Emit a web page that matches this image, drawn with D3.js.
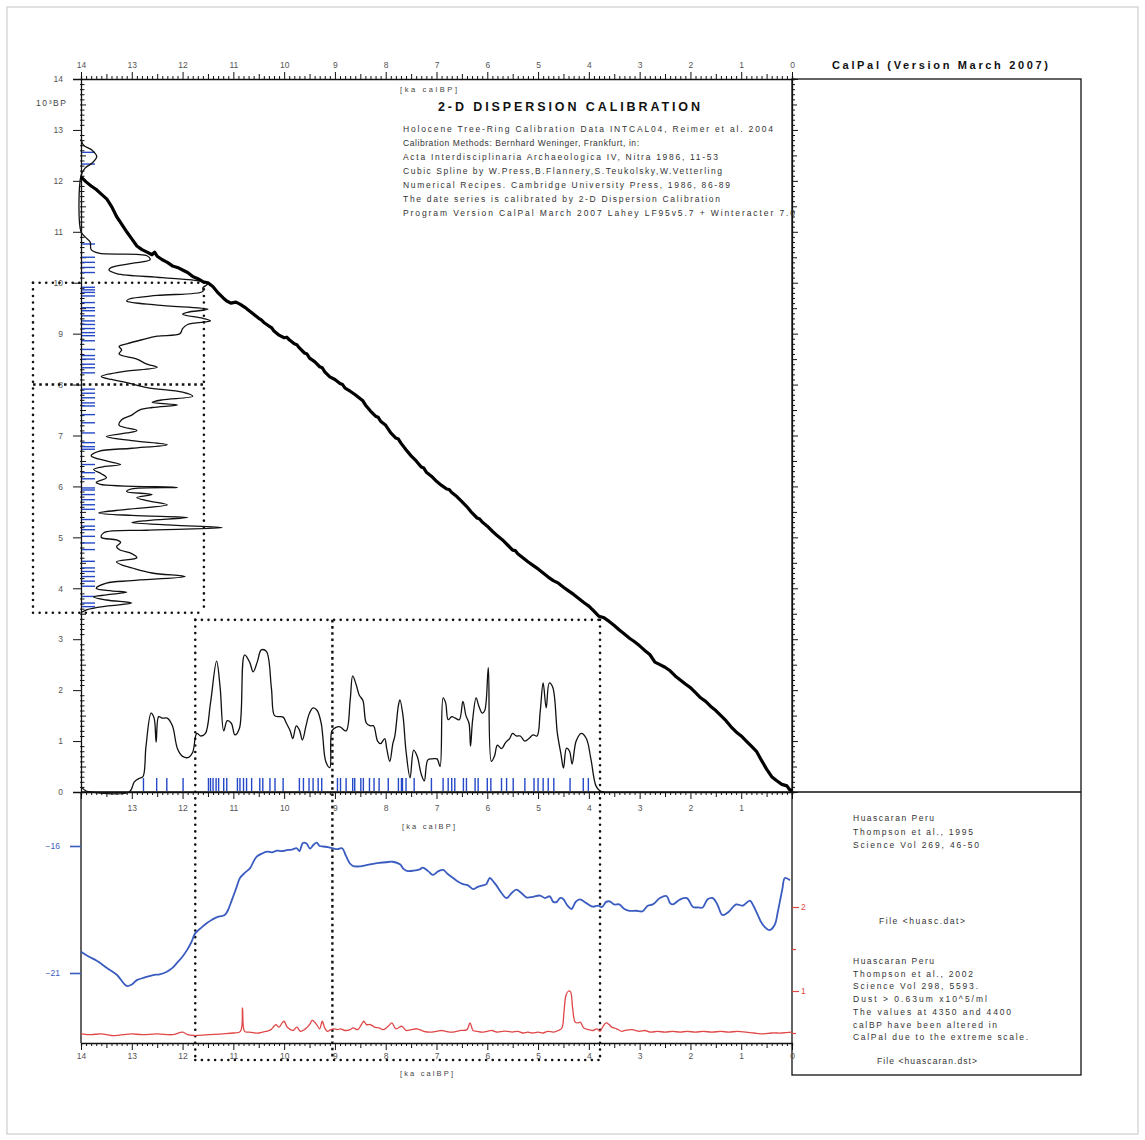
<!DOCTYPE html>
<html><head><meta charset="utf-8">
<script src="https://cdn.jsdelivr.net/npm/d3@7"></script>
<style>
body{margin:0;background:#fff}
svg{display:block}
text{font-family:"Liberation Sans",Arial,sans-serif}
</style>
</head><body>
<svg id="c" width="1145" height="1140"></svg>
<script>
// ---------------- DATA ----------------
// calibration curve: [cal ka BP, 14C ka BP]
const calCurve = [[14.0,12.08],[13.9,11.98],[13.8,11.9],[13.7,11.83],[13.6,11.74],[13.49,11.64],[13.4,11.5],[13.3,11.3],[13.2,11.15],[13.1,11.0],[13.0,10.86],[12.9,10.72],[12.8,10.65],[12.7,10.6],[12.6,10.55],[12.55,10.6],[12.5,10.52],[12.4,10.45],[12.3,10.4],[12.2,10.33],[12.1,10.3],[12.0,10.25],[11.9,10.2],[11.8,10.12],[11.7,10.08],[11.6,10.02],[11.5,10.0],[11.4,9.92],[11.3,9.8],[11.2,9.7],[11.13,9.64],[11.05,9.6],[10.95,9.62],[10.87,9.58],[10.75,9.5],[10.6,9.38],[10.5,9.3],[10.45,9.27],[10.4,9.22],[10.3,9.15],[10.25,9.12],[10.2,9.05],[10.1,8.97],[10.0,8.92],[9.95,8.93],[9.9,8.88],[9.8,8.8],[9.75,8.78],[9.7,8.72],[9.6,8.62],[9.55,8.6],[9.5,8.52],[9.4,8.45],[9.3,8.35],[9.25,8.33],[9.2,8.25],[9.1,8.15],[9.0,8.1],[8.9,8.02],[8.85,8.0],[8.8,7.93],[8.7,7.87],[8.6,7.8],[8.5,7.72],[8.45,7.68],[8.4,7.6],[8.3,7.48],[8.2,7.38],[8.15,7.36],[8.1,7.28],[8.0,7.2],[7.9,7.05],[7.8,6.95],[7.75,6.93],[7.7,6.85],[7.6,6.72],[7.5,6.6],[7.4,6.5],[7.3,6.38],[7.25,6.36],[7.2,6.28],[7.1,6.2],[7.0,6.1],[6.9,6.02],[6.8,5.95],[6.75,5.94],[6.7,5.88],[6.6,5.8],[6.5,5.7],[6.4,5.6],[6.3,5.48],[6.2,5.38],[6.15,5.36],[6.1,5.3],[6.0,5.22],[5.9,5.12],[5.8,5.03],[5.7,4.95],[5.6,4.85],[5.5,4.75],[5.45,4.74],[5.4,4.68],[5.3,4.6],[5.2,4.52],[5.1,4.45],[5.0,4.38],[4.9,4.3],[4.8,4.22],[4.7,4.15],[4.6,4.1],[4.5,4.02],[4.4,3.95],[4.3,3.88],[4.2,3.8],[4.1,3.72],[4.0,3.65],[3.9,3.55],[3.8,3.45],[3.7,3.42],[3.6,3.35],[3.5,3.27],[3.4,3.18],[3.3,3.1],[3.2,3.02],[3.1,2.95],[3.0,2.87],[2.9,2.78],[2.8,2.7],[2.7,2.55],[2.6,2.5],[2.5,2.45],[2.4,2.38],[2.3,2.28],[2.2,2.2],[2.1,2.12],[2.0,2.05],[1.9,1.95],[1.8,1.85],[1.7,1.78],[1.6,1.68],[1.5,1.6],[1.4,1.5],[1.3,1.4],[1.2,1.28],[1.1,1.18],[1.0,1.1],[0.9,1.0],[0.8,0.9],[0.7,0.8],[0.6,0.62],[0.5,0.45],[0.4,0.3],[0.3,0.22],[0.2,0.15],[0.1,0.12],[0.05,0.05],[0.0,0.02]];

// 14C-age histogram (left): [14C ka BP, density]
const c14Hist = [[12.82,0],[12.7,0.05],[12.6,0.22],[12.48,0.31],[12.35,0.22],[12.25,0.08],[12.1,0],[11.0,0],[10.9,0.08],[10.8,0.18],[10.65,0.2],[10.58,0.35],[10.53,1.3],[10.45,1.36],[10.38,1.0],[10.3,0.6],[10.25,0.55],[10.18,0.7],[10.1,1.6],[10.03,2.35],[9.98,2.5],[9.9,2.4],[9.83,2.4],[9.75,1.5],[9.68,0.95],[9.64,0.9],[9.56,1.5],[9.48,2.5],[9.42,2.1],[9.38,2.0],[9.3,2.4],[9.25,2.55],[9.18,2.1],[9.1,2.0],[9.0,1.95],[8.95,1.5],[8.88,1.2],[8.8,0.9],[8.75,0.75],[8.68,0.8],[8.6,0.75],[8.5,1.1],[8.4,1.3],[8.34,1.5],[8.25,0.8],[8.16,0.4],[8.1,0.6],[8.04,0.9],[7.94,1.3],[7.85,2.0],[7.77,2.2],[7.7,1.6],[7.65,1.4],[7.6,1.9],[7.55,1.4],[7.5,1.15],[7.4,1.0],[7.31,0.8],[7.2,0.75],[7.1,1.1],[7.05,0.9],[6.98,0.5],[6.9,1.0],[6.82,1.7],[6.75,1.0],[6.69,0.35],[6.6,0.2],[6.5,0.5],[6.43,0.78],[6.38,0.4],[6.33,0.25],[6.25,0.4],[6.17,0.5],[6.08,0.3],[6.04,0.38],[5.98,1.9],[5.95,1.0],[5.9,0.9],[5.84,1.4],[5.78,1.1],[5.72,1.3],[5.64,1.7],[5.55,0.9],[5.48,0.35],[5.43,1.0],[5.39,2.1],[5.33,1.3],[5.29,1.0],[5.24,1.8],[5.19,2.78],[5.14,1.3],[5.09,0.45],[5.0,0.4],[4.95,0.7],[4.9,0.78],[4.82,0.7],[4.76,0.75],[4.68,1.0],[4.6,1.1],[4.52,0.7],[4.46,0.8],[4.4,1.0],[4.3,1.4],[4.23,2.05],[4.15,1.0],[4.1,0.5],[4.0,0.3],[3.95,0.6],[3.92,0.9],[3.87,0.5],[3.83,0.25],[3.77,0.5],[3.71,1.0],[3.65,0.5],[3.58,0.12],[3.52,0]];

// calibrated-age histogram (bottom): [cal ka BP, density]
const calHist = [[14.0,0.1],[13.9,0.02],[13.8,0],[13.05,0],[12.95,0.2],[12.85,0.27],[12.78,0.3],[12.72,0.9],[12.62,1.55],[12.56,1.45],[12.52,0.98],[12.47,1.48],[12.4,1.45],[12.3,1.45],[12.2,1.3],[12.1,0.85],[12.0,0.7],[11.88,0.68],[11.8,0.78],[11.72,1.15],[11.64,1.1],[11.55,1.15],[11.45,1.75],[11.33,2.57],[11.26,2.05],[11.19,1.2],[11.12,1.4],[11.04,1.35],[10.97,1.12],[10.88,1.25],[10.78,2.69],[10.68,2.55],[10.61,2.36],[10.53,2.55],[10.45,2.79],[10.35,2.76],[10.25,2.03],[10.19,1.5],[10.1,1.48],[10.02,1.47],[9.95,1.34],[9.88,1.2],[9.83,1.05],[9.76,1.3],[9.7,1.22],[9.64,1.02],[9.57,1.3],[9.5,1.55],[9.43,1.65],[9.35,1.6],[9.27,1.35],[9.24,1.1],[9.18,0.6],[9.1,0.48],[9.06,1.2],[8.98,1.27],[8.9,1.28],[8.78,1.2],[8.7,1.8],[8.65,2.28],[8.58,2.1],[8.52,1.9],[8.45,1.8],[8.38,1.35],[8.3,1.3],[8.24,1.3],[8.16,1.0],[8.1,0.95],[8.02,1.05],[7.98,0.85],[7.92,0.6],[7.86,0.95],[7.82,1.1],[7.75,1.7],[7.72,1.81],[7.66,1.5],[7.6,0.8],[7.52,0.28],[7.45,0.82],[7.38,0.7],[7.3,0.35],[7.24,0.22],[7.17,0.63],[7.08,0.65],[6.99,0.65],[6.93,0.5],[6.87,1.85],[6.82,1.75],[6.77,1.42],[6.7,1.48],[6.63,1.45],[6.55,1.42],[6.48,1.78],[6.42,1.5],[6.36,1.35],[6.33,0.9],[6.29,1.4],[6.22,1.85],[6.17,1.7],[6.1,1.55],[6.05,1.6],[5.98,2.44],[5.92,0.6],[5.86,0.7],[5.8,0.92],[5.72,0.85],[5.64,0.97],[5.56,1.05],[5.5,1.15],[5.43,1.1],[5.35,1.1],[5.26,1.0],[5.18,1.05],[5.1,1.12],[5.02,1.1],[4.96,1.56],[4.9,2.14],[4.84,1.65],[4.78,2.14],[4.71,2.05],[4.62,1.15],[4.55,0.75],[4.5,0.47],[4.44,0.86],[4.38,0.8],[4.33,0.55],[4.25,1.0],[4.15,1.15],[4.05,1.05],[3.96,0.65],[3.86,0.12],[3.78,0.02],[3.7,0]];

// individual dates: 14C ages (left rug) and calibrated ages (bottom rug), ka
const c14Dates = [12.56,12.33,10.76,10.5,10.4,10.3,10.2,9.91,9.86,9.81,9.74,9.61,9.51,9.45,9.35,9.25,9.18,9.1,9.02,8.96,8.86,8.69,8.57,8.5,8.4,8.33,8.23,7.91,7.83,7.74,7.64,7.58,7.41,7.25,7.05,6.86,6.78,6.73,6.43,6.27,6.15,5.97,5.93,5.84,5.74,5.64,5.55,5.35,5.22,5.15,5.02,4.89,4.76,4.53,4.4,4.33,4.23,4.14,4.04,3.84,3.71,3.64];
const calDates = [12.77,12.51,12.31,11.99,11.49,11.45,11.4,11.34,11.29,11.19,11.13,10.92,10.87,10.8,10.74,10.64,10.48,10.42,10.28,10.18,10.02,9.7,9.62,9.51,9.43,9.33,9.26,8.95,8.89,8.78,8.65,8.61,8.49,8.44,8.32,8.23,8.13,7.95,7.75,7.69,7.67,7.6,7.44,7.1,6.87,6.77,6.7,6.64,6.47,6.41,6.24,6.18,6.0,5.93,5.72,5.62,5.49,5.26,5.08,5.0,4.9,4.8,4.69,4.37,4.11,4.01];

// Huascaran d18O (blue, permil) and dust (red): [cal ka BP, value]
const d18O = [[14.0,-20.16],[13.85,-20.35],[13.69,-20.52],[13.49,-20.8],[13.29,-21.08],[13.1,-21.51],[13.0,-21.45],[12.9,-21.28],[12.75,-21.18],[12.58,-21.08],[12.45,-21.05],[12.31,-20.95],[12.2,-20.8],[12.11,-20.6],[12.0,-20.35],[11.91,-20.09],[11.83,-19.8],[11.75,-19.43],[11.65,-19.25],[11.52,-19.03],[11.42,-18.9],[11.32,-18.8],[11.17,-18.72],[11.1,-18.5],[11.03,-18.13],[10.95,-17.7],[10.87,-17.26],[10.77,-17.05],[10.67,-16.87],[10.6,-16.6],[10.54,-16.42],[10.44,-16.3],[10.34,-16.22],[10.24,-16.25],[10.14,-16.18],[10.04,-16.2],[9.95,-16.16],[9.85,-16.14],[9.75,-16.09],[9.7,-16.2],[9.63,-15.88],[9.56,-15.9],[9.49,-16.1],[9.42,-15.95],[9.36,-15.87],[9.3,-16.0],[9.23,-16.02],[9.12,-16.05],[9.04,-16.09],[8.95,-16.12],[8.86,-16.09],[8.78,-16.4],[8.7,-16.7],[8.64,-16.79],[8.5,-16.8],[8.4,-16.76],[8.31,-16.72],[8.2,-16.68],[8.11,-16.66],[8.0,-16.64],[7.86,-16.62],[7.72,-16.72],[7.65,-16.9],[7.58,-16.98],[7.45,-16.97],[7.33,-16.92],[7.27,-16.85],[7.17,-16.98],[7.07,-17.14],[6.97,-17.0],[6.87,-16.94],[6.78,-17.1],[6.68,-17.25],[6.58,-17.4],[6.48,-17.5],[6.38,-17.55],[6.28,-17.7],[6.18,-17.6],[6.09,-17.55],[6.02,-17.5],[5.95,-17.26],[5.88,-17.4],[5.82,-17.55],[5.72,-17.85],[5.62,-18.05],[5.52,-17.85],[5.43,-17.72],[5.33,-17.85],[5.22,-18.03],[5.1,-18.0],[4.96,-17.95],[4.86,-18.05],[4.77,-17.98],[4.7,-18.2],[4.63,-18.2],[4.57,-18.05],[4.51,-18.08],[4.42,-18.35],[4.34,-18.48],[4.26,-18.2],[4.18,-18.1],[4.05,-18.25],[3.92,-18.39],[3.82,-18.35],[3.74,-18.4],[3.66,-18.2],[3.59,-18.18],[3.5,-18.3],[3.4,-18.3],[3.3,-18.48],[3.2,-18.55],[3.07,-18.55],[2.94,-18.57],[2.84,-18.35],[2.74,-18.3],[2.6,-18.05],[2.47,-17.97],[2.4,-18.25],[2.35,-18.3],[2.2,-18.1],[2.07,-18.05],[1.95,-18.4],[1.85,-18.42],[1.76,-18.42],[1.66,-18.1],[1.56,-18.05],[1.47,-18.3],[1.37,-18.72],[1.25,-18.6],[1.1,-18.3],[0.97,-18.35],[0.83,-18.15],[0.76,-18.35],[0.7,-18.6],[0.62,-18.95],[0.54,-19.18],[0.44,-19.31],[0.34,-19.1],[0.28,-18.6],[0.24,-18.2],[0.19,-17.7],[0.14,-17.26],[0.04,-17.35]];
const dust = [[14.0,0.49],[13.8,0.48],[13.6,0.49],[13.4,0.47],[13.18,0.48],[13.0,0.49],[12.8,0.48],[12.5,0.49],[12.2,0.48],[12.0,0.51],[11.9,0.48],[11.78,0.47],[11.5,0.48],[11.2,0.49],[11.0,0.5],[10.86,0.52],[10.82,0.8],[10.78,0.52],[10.7,0.51],[10.5,0.5],[10.35,0.52],[10.26,0.54],[10.2,0.58],[10.16,0.6],[10.1,0.57],[10.04,0.62],[10.0,0.64],[9.95,0.58],[9.9,0.55],[9.82,0.53],[9.75,0.57],[9.68,0.52],[9.6,0.54],[9.5,0.6],[9.45,0.65],[9.4,0.63],[9.36,0.6],[9.3,0.55],[9.25,0.64],[9.2,0.56],[9.15,0.52],[9.08,0.54],[9.02,0.55],[8.95,0.54],[8.89,0.55],[8.8,0.53],[8.7,0.54],[8.64,0.56],[8.55,0.54],[8.48,0.6],[8.43,0.64],[8.38,0.6],[8.3,0.6],[8.22,0.57],[8.13,0.56],[8.05,0.54],[7.95,0.58],[7.88,0.62],[7.8,0.55],[7.68,0.58],[7.6,0.53],[7.5,0.54],[7.38,0.55],[7.25,0.52],[7.13,0.51],[7.0,0.52],[6.9,0.53],[6.82,0.52],[6.7,0.51],[6.6,0.52],[6.52,0.53],[6.4,0.54],[6.34,0.62],[6.28,0.53],[6.2,0.52],[6.11,0.51],[6.0,0.52],[5.91,0.53],[5.8,0.51],[5.7,0.52],[5.6,0.52],[5.51,0.51],[5.4,0.52],[5.3,0.5],[5.2,0.51],[5.11,0.5],[5.0,0.51],[4.9,0.5],[4.81,0.52],[4.7,0.51],[4.6,0.53],[4.53,0.56],[4.49,0.75],[4.45,0.95],[4.4,1.0],[4.36,0.99],[4.32,0.8],[4.27,0.63],[4.22,0.62],[4.17,0.63],[4.1,0.56],[4.0,0.54],[3.92,0.53],[3.84,0.55],[3.78,0.52],[3.72,0.58],[3.66,0.62],[3.6,0.6],[3.55,0.57],[3.45,0.55],[3.35,0.52],[3.29,0.53],[3.15,0.54],[3.0,0.52],[2.9,0.53],[2.78,0.51],[2.65,0.52],[2.5,0.51],[2.35,0.52],[2.2,0.51],[2.07,0.52],[1.9,0.51],[1.75,0.52],[1.58,0.51],[1.4,0.52],[1.25,0.51],[1.07,0.52],[0.9,0.51],[0.75,0.5],[0.56,0.49],[0.4,0.5],[0.2,0.5],[0.0,0.51]];

// tick values / labels
const blueTicks = [-16, -21];
const redTicks = [0.5, 1, 1.5, 2];
const redLabels = [1, 2];

// ranges of the 2-D calibration window
const c14Window = [3.52, 10], c14Split = 8, densWindow = 2.42;
const calWindow = [11.75, 3.78], calSplit = 9.05, calBoxTop = 3.38;

// texts
const infoLines = ["Holocene Tree-Ring Calibration Data INTCAL04, Reimer et al. 2004",
 "Calibration Methods:  Bernhard Weninger, Frankfurt, in:",
 "Acta Interdisciplinaria Archaeologica IV, Nitra 1986, 11-53",
 "Cubic Spline by W.Press,B.Flannery,S.Teukolsky,W.Vetterling",
 "Numerical Recipes. Cambridge University Press, 1986, 86-89",
 "The date series is calibrated by 2-D Dispersion Calibration",
 "Program Version CalPal March 2007 Lahey LF95v5.7 + Winteracter 7.0"];
const block1 = ["Huascaran Peru", "Thompson et al., 1995", "Science Vol 269, 46-50"];
const block2 = ["Huascaran Peru", "Thompson et al., 2002", "Science Vol 298, 5593.", "Dust > 0.63um x10^5/ml",
 "The values at 4350 and 4400", "calBP have been altered in", "CalPal due to the extreme scale."];

// ---------------- DRAW ----------------
const svg = d3.select("#c");
const L = 81, R = 792, T = 79, B = 792, B2 = 1043, PR = 1081, PB = 1075;
const xCal = d3.scaleLinear().domain([14, 0]).range([L, R]);
const yC14 = d3.scaleLinear().domain([0, 14]).range([B, T]);
const xDens = d3.scaleLinear().domain([0, 14]).range([L, R]);
const yBlue = d3.scaleLinear().domain([-21, -16]).range([973, 846]);
const yRed = d3.scaleLinear().domain([1, 2]).range([991, 907]);

const isInt = d => Math.abs(d - Math.round(d)) < 1e-6;
const isHalf = d => Math.abs(d * 2 - Math.round(d * 2)) < 1e-6;
const minors = d3.range(0, 141).map(i => i / 10);
const TICKC = "#555";
const FONT = '"Liberation Sans",Arial,sans-serif';

// outer frame
svg.append("rect").attr("x", 7).attr("y", 7).attr("width", 1131).attr("height", 1127)
  .attr("fill", "none").attr("stroke", "#c4c4c4").attr("stroke-width", 1);

// right panel box
svg.append("rect").attr("x", R).attr("y", T).attr("width", PR - R).attr("height", PB - T)
  .attr("fill", "none").attr("stroke", "#111").attr("stroke-width", 1.3);
svg.append("line").attr("x1", L).attr("x2", PR).attr("y1", B).attr("y2", B).attr("stroke", "#111").attr("stroke-width", 1.3);

function styleAxis(g, color) {
  g.select(".domain").attr("stroke", "#111").attr("stroke-width", 1.3);
  g.selectAll(".tick line").attr("stroke", color || "#111").attr("stroke-width", 1);
  g.selectAll(".tick text").attr("fill", color || TICKC).attr("font-size", 8.5).attr("font-family", FONT);
}

// top axis
const gTop = svg.append("g").attr("transform", `translate(0,${T})`)
  .call(d3.axisTop(xCal).tickValues(minors).tickSizeOuter(0).tickSize(3).tickPadding(8)
    .tickFormat(d => isInt(d) ? d3.format("d")(d) : ""));
styleAxis(gTop);
gTop.selectAll(".tick line").attr("y2", d => isInt(d) ? -7 : isHalf(d) ? -5 : -3);

// left axis top panel
const gLeft = svg.append("g").attr("transform", `translate(${L},0)`)
  .call(d3.axisLeft(yC14).tickValues(minors).tickSizeOuter(0).tickSize(8).tickPadding(10)
    .tickFormat(d => isInt(d) ? d3.format("d")(d) : ""));
styleAxis(gLeft);
gLeft.selectAll(".tick line").attr("x1", d => isInt(d) ? 0 : -1).attr("x2", d => isInt(d) ? -8 : (isHalf(d) ? 5 : 3.5));

// right axis top panel
const gRight = svg.append("g").attr("transform", `translate(${R},0)`)
  .call(d3.axisRight(yC14).tickValues(minors).tickSizeOuter(0).tickSize(3).tickFormat(""));
styleAxis(gRight);
gRight.selectAll(".tick line").attr("x2", d => isInt(d) ? 6 : isHalf(d) ? 5 : 3);

// bottom panel top axis
const gMid = svg.append("g").attr("transform", `translate(0,${B})`)
  .call(d3.axisBottom(xCal).tickValues(minors).tickSizeOuter(0).tickSize(3).tickPadding(10)
    .tickFormat(d => (isInt(d) && d > 0 && d < 14) ? d3.format("d")(d) : ""));
styleAxis(gMid);
gMid.selectAll(".tick line").attr("y2", d => isInt(d) ? 7 : isHalf(d) ? 5 : 3);

// bottom axis
const gBot = svg.append("g").attr("transform", `translate(0,${B2})`)
  .call(d3.axisBottom(xCal).tickValues(minors).tickSizeOuter(0).tickSize(3).tickPadding(7)
    .tickFormat(d => isInt(d) ? d3.format("d")(d) : ""));
styleAxis(gBot);
gBot.selectAll(".tick line").attr("y2", d => isInt(d) ? 7 : isHalf(d) ? 5 : 3);

// bottom panel left frame line
svg.append("line").attr("x1", L).attr("x2", L).attr("y1", B).attr("y2", B2).attr("stroke", "#111").attr("stroke-width", 1.3);

// blue axis
const gBlue = svg.append("g").attr("transform", `translate(${L},0)`)
  .call(d3.axisLeft(yBlue).tickValues(blueTicks).tickSize(11).tickPadding(10).tickFormat(d3.format("d")));
gBlue.select(".domain").remove();
gBlue.selectAll(".tick line").attr("stroke", "#3a5cc0").attr("stroke-width", 1.6);
gBlue.selectAll(".tick text").attr("fill", "#3a5cc0").attr("font-size", 8.5).attr("font-family", FONT);

// red axis
const gRed = svg.append("g").attr("transform", `translate(${R},0)`)
  .call(d3.axisRight(yRed).tickValues(redTicks).tickSize(7).tickPadding(2)
    .tickFormat(d => redLabels.includes(d) ? d3.format("d")(d) : ""));
gRed.select(".domain").remove();
gRed.selectAll(".tick line").attr("stroke", "#e04848").attr("stroke-width", 1.2)
  .attr("x2", d => redLabels.includes(d) ? 7 : 4);
gRed.selectAll(".tick text").attr("fill", "#e04848").attr("font-size", 8.5).attr("font-family", FONT);

// ---- dotted guides ----
const dotted = (x1, y1, x2, y2, heavy) => svg.append("line")
  .attr("x1", x1).attr("y1", y1).attr("x2", x2).attr("y2", y2)
  .attr("stroke", "#111").attr("stroke-width", heavy ? 2.4 : 2.6)
  .attr("stroke-linecap", heavy ? "butt" : "round")
  .attr("stroke-dasharray", heavy ? "2.6 3.6" : "0.01 6.6");
const boxL = L - 48, boxR = xDens(densWindow);
dotted(boxL, yC14(c14Window[1]), boxR, yC14(c14Window[1]));
dotted(boxL, yC14(c14Split), boxR, yC14(c14Split), true);
dotted(boxL, yC14(c14Window[0]), boxR, yC14(c14Window[0]));
dotted(boxL, yC14(c14Window[1]), boxL, yC14(c14Window[0]));
dotted(boxR, yC14(c14Window[1]), boxR, yC14(c14Window[0]));
const calTopY = yC14(calBoxTop), calBotY = B2 + 17;
dotted(xCal(calWindow[0]), calTopY, xCal(calWindow[1]), calTopY);
dotted(xCal(calWindow[0]), calBotY, xCal(calWindow[1]), calBotY);
dotted(xCal(calWindow[0]), calTopY, xCal(calWindow[0]), calBotY);
dotted(xCal(calWindow[1]), calTopY, xCal(calWindow[1]), calBotY);
dotted(xCal(calSplit), calTopY, xCal(calSplit), calBotY, true);

// ---- rugs ----
svg.append("g").selectAll("line").data(c14Dates).join("line")
  .attr("x1", L + 1).attr("x2", L + 14).attr("y1", d => yC14(d)).attr("y2", d => yC14(d))
  .attr("stroke", "#2448c8").attr("stroke-width", 1.4);
svg.append("g").selectAll("line").data(calDates).join("line")
  .attr("y1", B - 1).attr("y2", B - 14).attr("x1", d => xCal(d)).attr("x2", d => xCal(d))
  .attr("stroke", "#2448c8").attr("stroke-width", 1.4);

// ---- histograms ----
svg.append("path").datum(c14Hist)
  .attr("d", d3.line().x(d => xDens(d[1])).y(d => yC14(d[0])).curve(d3.curveCatmullRom.alpha(0.5)))
  .attr("fill", "none").attr("stroke", "#111").attr("stroke-width", 1.3);
svg.append("path").datum(calHist)
  .attr("d", d3.line().x(d => xCal(d[0])).y(d => yC14(d[1])).curve(d3.curveCatmullRom.alpha(0.5)))
  .attr("fill", "none").attr("stroke", "#111").attr("stroke-width", 1.3);

// ---- calibration curve ----
svg.append("path").datum(calCurve)
  .attr("d", d3.line().x(d => xCal(d[0])).y(d => yC14(d[1])))
  .attr("fill", "none").attr("stroke", "#000").attr("stroke-width", 3.2).attr("stroke-linejoin", "round");

// ---- proxy curves ----
svg.append("path").datum(d18O)
  .attr("d", d3.line().x(d => xCal(d[0])).y(d => yBlue(d[1])).curve(d3.curveCatmullRom.alpha(0.5)))
  .attr("fill", "none").attr("stroke", "#3a5cc0").attr("stroke-width", 1.8);
svg.append("path").datum(dust)
  .attr("d", d3.line().x(d => xCal(d[0])).y(d => yRed(d[1])).curve(d3.curveCatmullRom.alpha(0.5)))
  .attr("fill", "none").attr("stroke", "#e04848").attr("stroke-width", 1.3);

// ---- texts ----
function txt(x, y, s, o = {}) {
  const t = svg.append("text").attr("x", x).attr("y", y).text(s)
    .attr("font-size", o.size || 8).attr("fill", o.fill || "#222")
    .attr("font-weight", o.weight || "normal").attr("text-anchor", o.anchor || "start");
  if (o.len) t.attr("textLength", o.len).attr("lengthAdjust", "spacing");
  return t;
}
txt(832, 69, "CalPal (Version March 2007)", {size: 11, weight: "bold", len: 216, fill: "#111"});
txt(438, 111, "2-D DISPERSION CALIBRATION", {size: 12.5, weight: "bold", len: 262, fill: "#111"});
txt(400, 92, "[ka calBP]", {size: 7.5, len: 57, fill: "#444"});
txt(402, 829, "[ka calBP]", {size: 7.5, len: 53, fill: "#444"});
txt(400, 1076, "[ka calBP]", {size: 7.5, len: 53, fill: "#444"});
txt(36, 106, "10³BP", {size: 8.5, len: 30, fill: "#444"});

const infoLen = [370, 236, 315, 319, 327, 317, 392];
infoLines.forEach((s, i) => txt(403, 132 + i * 14, s, {size: 8.5, len: infoLen[i], fill: "#333"}));

const b1Len = [81, 120, 126];
block1.forEach((s, i) => txt(853, 821 + i * 13.5, s, {size: 8.5, len: b1Len[i], fill: "#333"}));
txt(879, 924, "File <huasc.dat>", {size: 8.5, len: 86, fill: "#333"});
const b2Len = [81, 120, 125, 134, 158, 144, 175];
block2.forEach((s, i) => txt(853, 964 + i * 12.7, s, {size: 8.5, len: b2Len[i], fill: "#333"}));
txt(877, 1064, "File <huascaran.dst>", {size: 8.5, len: 100, fill: "#333"});
</script>
</body></html>
